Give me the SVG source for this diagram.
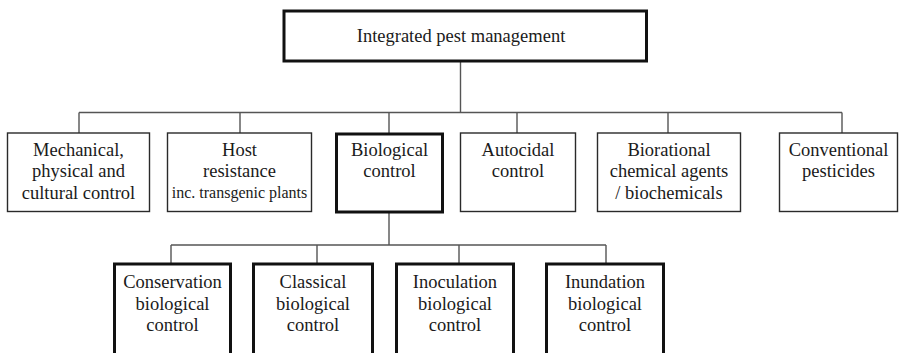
<svg xmlns="http://www.w3.org/2000/svg" width="904" height="353" viewBox="0 0 904 353">
<style>
  .bg { fill: #ffffff; }
  .box { fill: #ffffff; stroke: #2a2a2a; stroke-width: 1.4; }
  .bold { fill: #ffffff; stroke: #111111; stroke-width: 3; }
  .conn { fill: none; stroke: #555555; stroke-width: 1.4; }
  text { font-family: "Liberation Serif", "DejaVu Serif", serif; font-size: 18.5px; fill: #1a1a1a; text-anchor: middle; }
  .small { font-size: 16px; }
</style>
<rect class="bg" x="0" y="0" width="904" height="353"/>
<g id="connectors">
  <path class="conn" d="M460.5 62 V112.5 M79 112.5 H842 M79 112.5 V133 M240 112.5 V133 M389 112.5 V133 M517 112.5 V133 M668 112.5 V133 M842 112.5 V133"/>
  <path class="conn" d="M389 213 V245 M171 245 H606 M171 245 V263 M317 245 V263 M459 245 V263 M606 245 V263"/>
</g>
<g id="ipm">
  <rect class="bold" x="284" y="11" width="362.5" height="50"/>
  <text x="461" y="41.5">Integrated pest management</text>
</g>
<g id="mechanical">
  <rect class="box" x="7.5" y="133" width="142" height="78.5"/>
  <text x="78.5" y="155.5">Mechanical,</text>
  <text x="78.5" y="177">physical and</text>
  <text x="78.5" y="198.5">cultural control</text>
</g>
<g id="host">
  <rect class="box" x="167.5" y="133" width="144" height="78.5"/>
  <text x="239.5" y="155.5">Host</text>
  <text x="239.5" y="177">resistance</text>
  <text class="small" x="239.5" y="198">inc. transgenic plants</text>
</g>
<g id="biological">
  <rect class="bold" x="336.5" y="134" width="106" height="78"/>
  <text x="389.5" y="155.5">Biological</text>
  <text x="389.5" y="177">control</text>
</g>
<g id="autocidal">
  <rect class="box" x="460.5" y="133" width="115" height="78.5"/>
  <text x="518" y="155.5">Autocidal</text>
  <text x="518" y="177">control</text>
</g>
<g id="biorational">
  <rect class="box" x="597.5" y="133" width="143" height="78.5"/>
  <text x="669" y="155.5">Biorational</text>
  <text x="669" y="177">chemical agents</text>
  <text x="669" y="198.5">/ biochemicals</text>
</g>
<g id="conventional">
  <rect class="box" x="779.5" y="133" width="118" height="78.5"/>
  <text x="838.5" y="155.5">Conventional</text>
  <text x="838.5" y="177">pesticides</text>
</g>
<g id="conservation">
  <rect class="bold" x="114.5" y="264" width="116" height="100"/>
  <text x="172.5" y="288">Conservation</text>
  <text x="172.5" y="309.5">biological</text>
  <text x="172.5" y="331">control</text>
</g>
<g id="classical">
  <rect class="bold" x="253.5" y="264" width="119" height="100"/>
  <text x="313" y="288">Classical</text>
  <text x="313" y="309.5">biological</text>
  <text x="313" y="331">control</text>
</g>
<g id="inoculation">
  <rect class="bold" x="396.5" y="264" width="117" height="100"/>
  <text x="455" y="288">Inoculation</text>
  <text x="455" y="309.5">biological</text>
  <text x="455" y="331">control</text>
</g>
<g id="inundation">
  <rect class="bold" x="546.5" y="264" width="117" height="100"/>
  <text x="605" y="288">Inundation</text>
  <text x="605" y="309.5">biological</text>
  <text x="605" y="331">control</text>
</g>
</svg>
